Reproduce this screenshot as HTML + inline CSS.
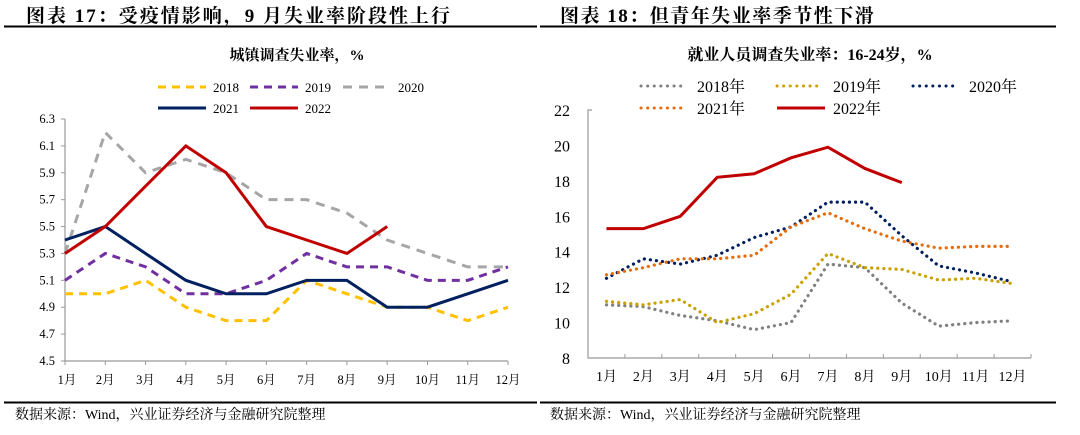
<!DOCTYPE html>
<html><head><meta charset="utf-8"><style>
body{margin:0;background:#fff;width:1080px;height:430px;overflow:hidden}
svg text{font-family:"Liberation Serif","Noto Serif CJK SC",serif;fill:#000}
</style></head><body>
<svg id="s" width="1080" height="430" viewBox="0 0 1080 430">
<text x="26" y="22" font-size="19" font-weight="bold" letter-spacing="2">图表 17：受疫情影响，9 月失业率阶段性上行</text>
<line x1="4" y1="26.5" x2="537" y2="26.5" stroke="#000" stroke-width="2"/>
<text x="560" y="22" font-size="19" font-weight="bold" letter-spacing="1.5">图表 18：但青年失业率季节性下滑</text>
<line x1="540" y1="26.5" x2="1056" y2="26.5" stroke="#000" stroke-width="2"/>
<text x="297" y="60" font-size="15" font-weight="bold" text-anchor="middle">城镇调查失业率，%</text>
<text x="810" y="60" font-size="16" font-weight="bold" text-anchor="middle">就业人员调查失业率：16-24岁，%</text>
<line x1="4" y1="402.5" x2="537" y2="402.5" stroke="#000" stroke-width="2"/>
<line x1="540" y1="402.5" x2="1056" y2="402.5" stroke="#000" stroke-width="2"/>
<text x="15" y="419" font-size="14">数据来源：Wind，兴业证券经济与金融研究院整理</text>
<text x="550" y="419" font-size="14">数据来源：Wind，兴业证券经济与金融研究院整理</text>
<g id="L"></g><g id="R"></g>
</svg>
<script>
const months=["1月","2月","3月","4月","5月","6月","7月","8月","9月","10月","11月","12月"];
const leftYears=["2018","2019","2020","2021","2022"];
const left2018=[5.0,5.0,5.1,4.9,4.8,4.8,5.1,5.0,4.9,4.9,4.8,4.9];
const left2019=[5.1,5.3,5.2,5.0,5.0,5.1,5.3,5.2,5.2,5.1,5.1,5.2];
const left2020=[5.3,6.2,5.9,6.0,5.9,5.7,5.7,5.6,5.4,5.3,5.2,5.2];
const left2021=[5.4,5.5,5.3,5.1,5.0,5.0,5.1,5.1,4.9,4.9,5.0,5.1];
const left2022=[5.3,5.5,5.8,6.1,5.9,5.5,5.4,5.3,5.5];
const leftTicks=[4.5,4.7,4.9,5.1,5.3,5.5,5.7,5.9,6.1,6.3];
const rightYears=["2018年","2019年","2020年","2021年","2022年"];
const right2018=[11.0,10.9,10.4,10.1,9.6,10.0,13.3,13.1,11.1,9.8,10.0,10.1];
const right2019=[11.2,11.0,11.3,10.0,10.5,11.6,13.9,13.1,13.0,12.4,12.5,12.2];
const right2020=[12.5,13.6,13.3,13.8,14.8,15.4,16.8,16.8,14.9,13.2,12.8,12.3];
const right2021=[12.7,13.1,13.6,13.6,13.8,15.4,16.2,15.3,14.6,14.2,14.3,14.3];
const right2022=[15.3,15.3,16.0,18.2,18.4,19.3,19.9,18.7,17.9];
const rightTicks=[8,10,12,14,16,18,20,22];
const NS="http://www.w3.org/2000/svg";
function mk(p,t,a){const e=document.createElementNS(NS,t);for(const k in a)e.setAttribute(k,a[k]);p.appendChild(e);return e;}
// LEFT
const L=document.getElementById('L');
const lx0=65,lx1=508,ly=v=>361-(v-4.5)/1.8*242,lxi=i=>lx0+i*(lx1-lx0)/11;
const lax=mk(L,'path',{d:`M${lx0},119V361H${lx1}`,fill:'none',stroke:'#999','stroke-width':1.2});


leftTicks.forEach(v=>{mk(L,'line',{x1:lx0-4,x2:lx0,y1:ly(v),y2:ly(v),stroke:'#999'});
 const t=mk(L,'text',{x:lx0-10,y:ly(v)+4,'font-size':12.5,'text-anchor':'end'});t.textContent=v.toFixed(1);
 
 });
months.forEach((m,i)=>{mk(L,'line',{x1:lxi(i),x2:lxi(i),y1:361,y2:365,stroke:'#999'});
 const t=mk(L,'text',{x:lxi(i)+(i==0?2:0),y:384,'font-size':12.5,'text-anchor':'middle'});t.textContent=m;
 
 });
const lSeries=[[left2018,'#FFC000','8,6'],[left2019,'#7030A0','8,6'],[left2020,'#A6A6A6','9,7'],[left2021,'#002060',''],[left2022,'#C00000','']];
lSeries.forEach(([d,c,da],k)=>{const p=mk(L,'polyline',{points:d.map((v,i)=>lxi(i)+','+ly(v)).join(' '),fill:'none',stroke:c,'stroke-width':3,'stroke-dasharray':da});
 
 });
const lLeg=[[158,87],[250,87],[343,87],[158,108],[250,108]];
lSeries.forEach(([d,c,da],k)=>{const [x,y]=lLeg[k];
 mk(L,'line',{x1:x,x2:x+(k==2?47:48),y1:y,y2:y,stroke:c,'stroke-width':3,'stroke-dasharray':da});
 const t=mk(L,'text',{x:x+55,y:y+5,'font-size':13});t.textContent=leftYears[k];
 
 });
// RIGHT
const R=document.getElementById('R');
const rx0=588,rx1=1031,ry=v=>358-(v-8)/14*248,bw=(rx1-rx0)/12,rxi=i=>rx0+bw*(i+0.5);
const rax=mk(R,'path',{d:`M${rx0+4},110H${rx0}V358H${rx1}`,fill:'none',stroke:'#999','stroke-width':1.2});


rightTicks.forEach(v=>{const t=mk(R,'text',{x:rx0-18,y:ry(v)+6,'font-size':16,'text-anchor':'end'});t.textContent=v;
 
 });
for(let i=0;i<=12;i++)mk(R,'line',{x1:rx0+bw*i,x2:rx0+bw*i,y1:354,y2:358,stroke:'#999'});
months.forEach((m,i)=>{const t=mk(R,'text',{x:rxi(i),y:381,'font-size':14,'text-anchor':'middle'});t.textContent=m;
 
 });
const rSeries=[[right2018,'#808080'],[right2019,'#C9A000'],[right2020,'#002060'],[right2021,'#E46C0A'],[right2022,'#C00000']];
rSeries.forEach(([d,c],k)=>{const a=k==4?{stroke:c,'stroke-width':3}:{stroke:c,'stroke-width':3.2,'stroke-dasharray':'0.1,6','stroke-linecap':'round'};
 const p=mk(R,'polyline',Object.assign({points:d.map((v,i)=>rxi(i)+','+ry(v)).join(' '),fill:'none'},a));
 
 });
const rLeg=[[641,86],[777,86],[913,86],[641,108],[777,108]];
rSeries.forEach(([d,c],k)=>{const [x,y]=rLeg[k];
 const a=k==4?{stroke:c,'stroke-width':3}:{stroke:c,'stroke-width':3,'stroke-dasharray':'0.1,6.5','stroke-linecap':'round'};
 mk(R,'line',Object.assign({x1:x,x2:x+(k==4?48:44),y1:y,y2:y},a));
 const t=mk(R,'text',{x:x+56,y:y+6,'font-size':16});t.textContent=rightYears[k];
 
 });
</script>
</body></html>
